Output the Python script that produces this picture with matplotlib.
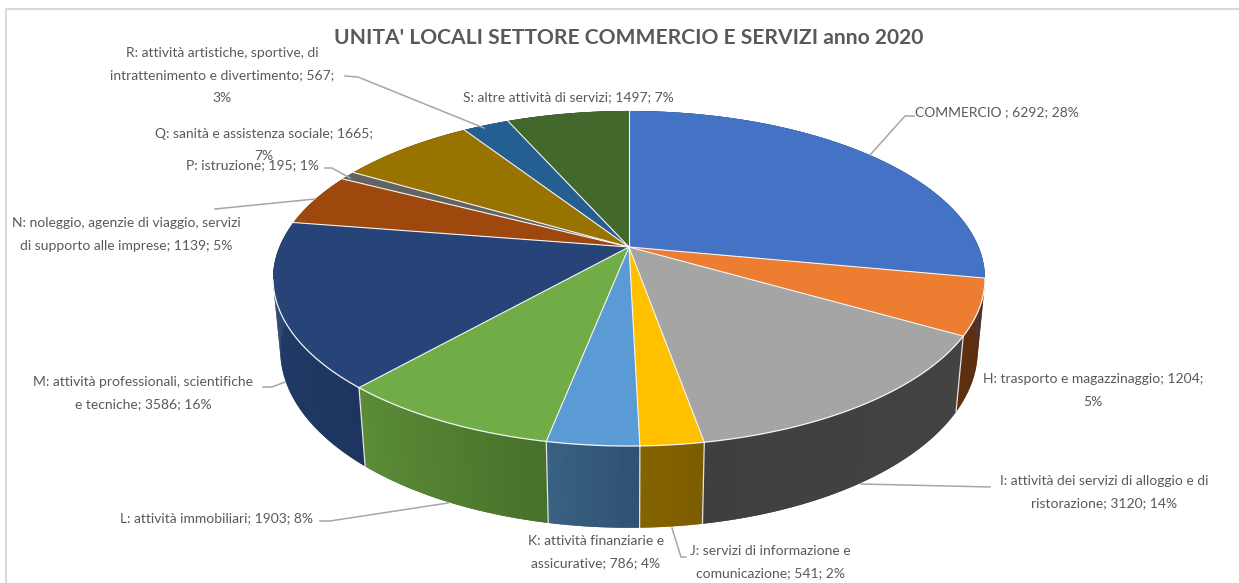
import numpy as np
import matplotlib
matplotlib.use("Agg")
import matplotlib.pyplot as plt
from matplotlib.collections import PolyCollection
from matplotlib.colors import to_rgb

title = "UNITA' LOCALI SETTORE COMMERCIO E SERVIZI anno 2020"

values = [6292, 1204, 3120, 541, 786, 1903, 3586, 1139, 195, 1665, 567, 1497]
percents = [28, 5, 14, 2, 4, 8, 16, 5, 1, 7, 3, 7]
colors = ["#4472C4", "#ED7D31", "#A5A5A5", "#FFC000", "#5B9BD5", "#70AD47",
          "#264478", "#9E480E", "#636363", "#997300", "#255E91", "#43682B"]
# side colour at start of the slice (right on screen) and at its end (left on screen)
side_start = ["#2f4f88", "#5a2c0e", "#444444", "#7b5c00", "#2f5170", "#47702a",
              "#1d355e", "#6e3209", "#454545", "#6b5000", "#1a4266", "#2f481e"]
side_end = ["#2f4f88", "#5f3010", "#3f3f3f", "#866500", "#3a6385", "#5d8e38",
            "#24406f", "#6e3209", "#454545", "#6b5000", "#1a4266", "#2f481e"]

# wrapped text of each label, with centre x and y of the first line
label_lines = [
    ["COMMERCIO ; 6292; 28%"],
    ["H: trasporto e magazzinaggio; 1204;", "5%"],
    ["I: attività dei servizi di alloggio e di", "ristorazione; 3120; 14%"],
    ["J: servizi di informazione e", "comunicazione; 541; 2%"],
    ["K: attività finanziarie e", "assicurative; 786; 4%"],
    ["L: attività immobiliari; 1903; 8%"],
    ["M: attività professionali, scientifiche", "e tecniche; 3586; 16%"],
    ["N: noleggio, agenzie di viaggio, servizi", "di supporto alle imprese; 1139; 5%"],
    ["P: istruzione; 195; 1%"],
    ["Q: sanità e assistenza sociale; 1665;", "7%"],
    ["R: attività artistiche, sportive, di", "intrattenimento e divertimento; 567;", "3%"],
    ["S: altre attività di servizi; 1497; 7%"],
]
label_x = [997, 1093, 1104, 770, 596, 216, 143, 126, 253, 264, 222, 568]
label_y = [112, 379, 481, 551, 541, 518, 382, 223, 165, 134, 53, 97]
leaders = [
    [(870, 155), (905, 116), (914, 116)],
    [(861, 484), (990, 487)],
    [(672, 528), (681, 557), (686, 557)],
    [(448, 503), (330, 521), (320, 521)],
    [(285, 382), (272, 387), (263, 387)],
    [(315, 199), (215, 209)],
    [(350, 178), (332, 168), (325, 168)],
    [(484, 128), (358, 77), (345, 76)],
]

# perspective of the pie, in pixels
CX, CY = 629, 247
A, B, K = 349.6, 161.6, 0.188
DEPTH, SHRINK = 72, 0.02
LINE_STEP = 22.5
RIM = "#f4f4f4"


def project(t, bottom=False):
    x = np.sin(t)
    y = np.cos(t)
    w = 1 + K * y
    if bottom:
        return CX + A * x / (w + SHRINK), CY + (-B * y + DEPTH) / (w + SHRINK)
    return CX + A * x / w, CY - B * y / w


def main():
    plt.rcParams["font.family"] = ["Lato", "DejaVu Sans"]
    fig = plt.figure(figsize=(12.39, 5.83), dpi=100)
    ax = fig.add_axes([0, 0, 1, 1])
    ax.set_xlim(0, 1239)
    ax.set_ylim(583, 0)
    ax.axis("off")

    ax.plot([6, 6, 1239], [583, 9, 9], color="#d9d9d9", lw=1.5)

    edges = np.cumsum([0] + values) / sum(values) * 2 * np.pi

    # sides first, the tops hide whatever lies behind
    for i in range(len(values)):
        t = np.linspace(edges[i], edges[i + 1], 90)
        tx, ty = project(t)
        bx, by = project(t, True)
        c0 = np.array(to_rgb(side_start[i]))
        c1 = np.array(to_rgb(side_end[i]))
        # plain slice under the strips so the joins between them do not show
        ax.fill(np.r_[tx, bx[::-1]], np.r_[ty, by[::-1]], facecolor=(c0 + c1) / 2, edgecolor="none", zorder=2)
        quads = []
        cols = []
        for j in range(len(t) - 1):
            quads.append([(tx[j], ty[j]), (tx[j + 1], ty[j + 1]), (bx[j + 1], by[j + 1]), (bx[j], by[j])])
            cols.append(c0 + (c1 - c0) * j / (len(t) - 2))
        ax.add_collection(PolyCollection(quads, facecolors=cols, edgecolors="none", zorder=2.5))

    for i in range(len(values)):
        t = edges[i]
        if np.cos(t) < -K:
            tx, ty = project(t)
            bx, by = project(t, True)
            ax.plot([tx, bx], [ty, by], color="#e4e4e4", lw=0.9, zorder=3)

    for i in range(len(values)):
        t = np.linspace(edges[i], edges[i + 1], 120)
        tx, ty = project(t)
        ax.fill(np.r_[CX, tx], np.r_[CY, ty], facecolor=colors[i], edgecolor="none", zorder=4)
        # rim only where it lies on the side wall
        front = np.cos(t) < -K
        if front.any():
            ax.plot(tx[front], ty[front], color=RIM, lw=0.9, zorder=4.5)

    for t in edges[:-1]:
        tx, ty = project(t)
        ax.plot([CX, tx], [CY, ty], color=RIM, lw=0.8, zorder=4.5)

    for pts in leaders:
        xs, ys = zip(*pts)
        ax.plot(xs, ys, color="#a6a6a6", lw=1.1, zorder=5)

    ax.text(629, 38, title, ha="center", va="center", fontsize=15.1, fontweight="bold", color="#595959")
    for lines, x, y in zip(label_lines, label_x, label_y):
        for n, line in enumerate(lines):
            ax.text(x, y + n * LINE_STEP, line, ha="center", va="center", fontsize=10, color="#595959", zorder=6)

    fig.savefig("out.png", dpi=100)


if __name__ == "__main__":
    main()
